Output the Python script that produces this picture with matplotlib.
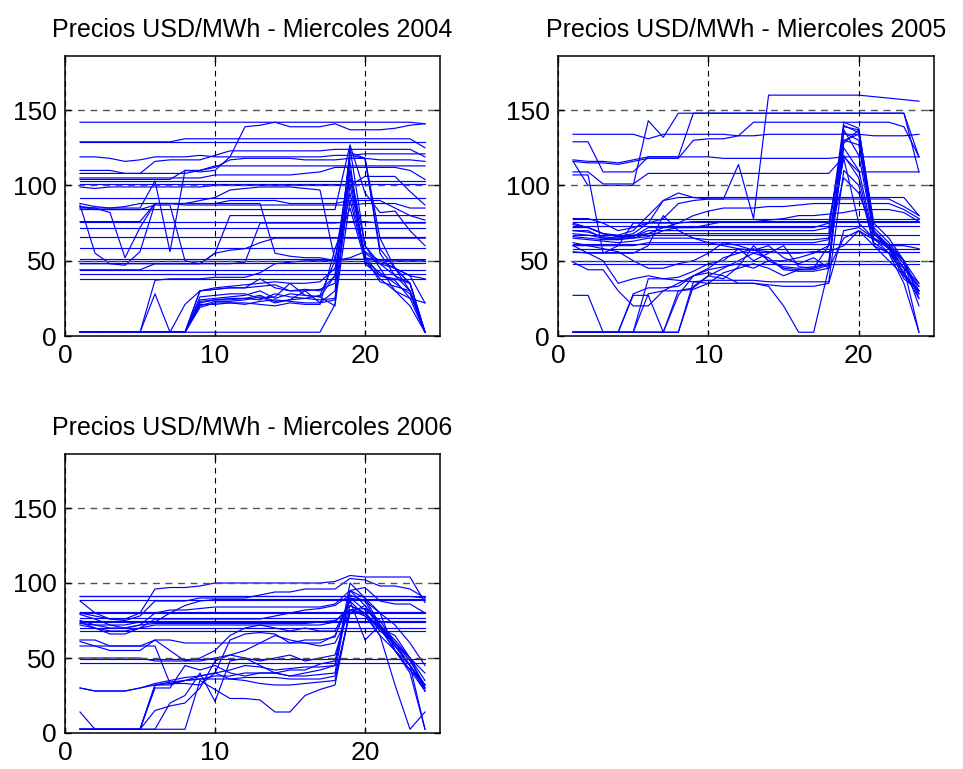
import matplotlib
matplotlib.use("Agg")
import matplotlib.pyplot as plt
import numpy as np

hours = list(range(1, 25))
titles = ["Precios USD/MWh - Miercoles 2004",
          "Precios USD/MWh - Miercoles 2005",
          "Precios USD/MWh - Miercoles 2006"]
xticks = [0, 10, 20]
yticks = [0, 50, 100, 150]

# ---- 2004 ----
flat_2004 = [129, 103, 101, 92, 76, 71.5, 65.5, 58.5, 51, 50, 48.5, 43.7, 41.5, 38]
series_2004 = [
    [142,142,142,142,142,142,142,142,142,142,142,142,142,142,142,142,142,142,142,142,142,142,142,141],
    [104,104,104,104,104,104,104,110,109,110,119,139,140,142,139,139,139,141,137,137,137,138,140,141],
    [129,129,129,129,129,129,129,131,131,131,131,131,131,131,131,131,131,131,131,131,131,131,131,125],
    [119,119,118,116,117,119,119,119,120,119,119,119,119,119,119,119,119,120,120,121,121,121,121,121],
    [110,110,110,108,108,116,117,117,117,120,123,123,123,123,123,123,123,124,124,124,124,124,124,119],
    [108,108,108,108,108,108,108,108,110,113,113,113,113,113,113,113,113,113,113,113,113,113,113,113],
    [105,105,105,105,105,105,105,105,105,107,107,107,107,107,107,108,109,112,112,112,112,112,110,104],
    [99,98,99,99,99,99,99,99,99,100,100,100,100,100,100,100,100,100,100,106,106,106,96,87],
    [88,86,85,86,88,88,88,88,90,92,97,98,99,99,99,98,97,50,110,60,48,45,40,38],
    [87,55,48,47,56,88,88,88,88,88,90,90,90,90,88,88,88,88,90,90,90,85,80,77],
    [86,85,82,52,72,88,88,87,87,87,87,87,87,87,87,87,87,87,87,88,88,88,85,85],
    [85,85,85,85,85,103,56,110,110,112,117,118,118,118,118,117,117,117,118,118,117,117,117,116],
    [86,84,84,84,84,87,87,50,48,55,80,80,80,80,80,80,80,80,80,80,80,80,80,80],
    [76,76,76,76,76,88,88,88,88,88,88,88,88,55,53,52,52,50,51,51,50,50,50,50],
    [48,48,48,48,48,48,48,48,48,48,48,49,75,75,75,75,75,75,76,76,75,75,75,75],
    [44,44,44,44,44,48,48,48,48,55,57,58,62,65,65,65,65,65,65,65,65,65,65,65],
    [84,84,84,84,84,84,84,84,84,84,84,84,84,84,84,84,84,84,127,95,82,83,70,60],
    [2.5,2.5,2.5,2.5,2.5,28,2.5,21,30,31,32,32,33,34,30,31,30,40,120,118,58,45,35,2.5],
    [2.5,2.5,2.5,2.5,2.5,37,38,38,38,39,39,39,42,48,49,50,50,50,52,56,50,45,40,22],
    [2.5,2.5,2.5,2.5,2.5,2.5,2.5,2.5,30,32,33,34,35,36,35,35,36,45,95,53,40,38,35,2.5],
    [2.5,2.5,2.5,2.5,2.5,2.5,2.5,2.5,22,24,25,25,24,28,26,25,24,25,100,55,48,40,30,2.5],
    [2.5,2.5,2.5,2.5,2.5,2.5,2.5,2.5,20,23,23,24,26,22,24,30,22,24,110,50,42,35,28,2.5],
    [2.5,2.5,2.5,2.5,2.5,2.5,2.5,2.5,19,22,22,21,23,24,23,22,22,30,125,60,45,30,20,2.5],
    [2.5,2.5,2.5,2.5,2.5,2.5,2.5,2.5,24,25,26,27,30,25,28,27,26,20,118,118,55,40,35,2.5],
    [2.5,2.5,2.5,2.5,2.5,2.5,2.5,2.5,26,27,28,28,25,26,35,27,26,40,105,52,50,45,35,2.5],
    [2.5,2.5,2.5,2.5,2.5,2.5,2.5,2.5,21,21,22,22,21,20,22,21,21,58,85,50,38,30,25,2.5],
    [2.5,2.5,2.5,2.5,2.5,2.5,2.5,2.5,23,24,24,25,27,23,24,25,27,50,115,48,40,37,25,22],
    [2.5,2.5,2.5,2.5,2.5,2.5,2.5,2.5,2.5,2.5,2.5,2.5,2.5,2.5,2.5,2.5,2.5,21,90,52,36,33,30,2.5],
    [2.5,2.5,2.5,2.5,2.5,2.5,2.5,2.5,30,31,32,32,38,32,30,30,31,35,122,118,65,45,30,2.5],
]

# ---- 2005 ----
flat_2005 = [78, 76, 73, 67, 61, 58, 56, 50, 48]
series_2005 = [
    [134,134,134,134,134,131,134,134,134,134,134,133,133,134,134,134,134,134,134,134,133,133,133,134],
    [129,129,109,109,109,119,119,119,148,148,148,148,148,148,148,148,148,148,148,148,148,148,148,119],
    [116,100,100,100,100,143,132,148,148,148,148,148,148,148,148,148,148,148,148,148,148,148,148,109],
    [117,116,116,115,117,119,119,119,119,119,118,118,118,118,118,118,118,118,119,119,119,119,119,119],
    [116,115,115,114,116,118,118,118,130,131,131,133,142,142,142,142,142,142,142,142,142,142,139,119],
    [109,109,101,101,101,108,108,108,108,108,108,108,108,108,108,108,108,108,119,109,109,109,109,109],
    [78,78,75,70,72,75,90,95,92,91,91,114,78,160,160,160,160,160,160,160,159,158,157,156],
    [72,72,68,66,68,75,78,88,90,91,91,91,91,91,91,91,91,91,91,91,91,91,86,80],
    [74,72,68,67,70,80,90,92,92,92,92,92,92,92,92,92,92,92,92,92,92,92,92,80],
    [70,69,66,65,67,68,72,75,80,83,85,85,85,86,86,87,88,88,88,88,88,88,84,78],
    [66,65,64,64,65,66,70,72,72,74,76,76,76,77,78,80,80,81,82,84,84,84,82,76],
    [107,107,55,55,55,60,80,70,65,62,60,58,57,56,55,55,56,56,60,70,64,60,60,58],
    [56,55,55,60,75,75,75,75,76,76,76,76,76,76,76,76,76,76,76,76,76,76,76,76],
    [62,60,58,56,50,45,45,48,50,55,62,60,57,60,52,48,52,45,65,70,60,50,40,30],
    [2.5,2.5,2.5,2.5,2.5,28,30,30,31,35,42,45,48,45,40,44,45,60,139,137,70,58,38,30],
    [27,27,2.5,2.5,27,27,2.5,27,40,44,46,48,45,50,46,45,46,48,130,127,68,58,45,33],
    [2.5,2.5,2.5,2.5,2.5,2.5,2.5,2.5,33,40,45,50,55,52,44,43,43,45,137,120,68,60,40,30],
    [2.5,2.5,2.5,2.5,2.5,2.5,2.5,30,32,40,38,46,60,50,45,44,44,47,125,110,65,58,42,28],
    [2.5,2.5,2.5,2.5,28,32,32,33,40,45,52,55,58,50,50,52,55,60,120,105,62,55,42,25],
    [2.5,2.5,2.5,2.5,2.5,38,38,39,43,48,50,58,50,55,60,46,45,48,140,135,70,60,45,2.5],
    [2.5,2.5,2.5,2.5,2.5,2.5,2.5,2.5,36,37,37,37,37,36,36,36,36,36,110,100,60,55,35,2.5],
    [49,44,44,30,20,20,30,35,40,42,40,35,35,33,20,2.5,2.5,45,130,134,68,60,50,25],
    [60,55,50,35,38,40,38,37,36,35,35,35,35,34,33,33,33,35,70,72,65,55,45,33],
    [70,70,65,65,65,68,68,68,68,68,68,68,68,68,68,68,68,68,142,138,72,62,50,30],
    [75,72,68,66,66,70,70,70,70,70,70,70,70,70,70,70,70,72,135,130,68,60,48,28],
    [68,67,65,64,66,72,72,72,72,72,72,72,72,72,72,72,72,75,128,137,75,65,50,35],
    [65,64,63,62,63,65,65,65,65,64,64,64,64,64,64,64,64,65,118,75,65,60,48,20],
    [60,60,60,60,60,62,62,62,62,62,62,62,62,62,62,62,62,64,105,95,68,58,45,35],
]

# ---- 2006 ----
flat_2006 = [91.5, 89, 81, 80, 77, 75, 74, 70, 68, 49.5, 46.5]
series_2006 = [
    [91,91,91,91,91,91,91,91,91,91,91,91,91,91,91,91,91,91,91,91,91,91,91,90],
    [80,78,76,76,80,96,97,97,98,100,100,100,100,100,100,100,100,101,105,104,104,104,104,87],
    [88,80,76,75,78,88,88,88,90,90,90,90,92,94,94,96,96,96,103,102,98,98,96,90],
    [75,72,72,72,74,74,80,85,88,89,89,89,89,89,89,89,89,89,89,89,89,89,89,89],
    [79,76,72,70,72,80,82,82,83,84,84,84,84,84,84,84,84,86,95,97,88,86,86,80],
    [74,70,66,66,70,76,76,76,76,76,76,76,76,78,80,82,83,85,92,88,80,72,60,45],
    [73,72,70,70,72,73,73,73,73,73,73,73,73,73,73,73,74,75,82,83,72,60,48,32],
    [72,70,68,68,70,72,72,72,72,72,72,72,72,72,72,72,72,74,85,80,70,55,42,28],
    [62,62,58,58,58,62,62,60,60,60,60,60,60,60,60,60,60,65,88,78,70,58,45,30],
    [61,58,55,55,55,62,55,48,50,55,65,70,72,70,68,70,68,68,88,62,72,62,50,35],
    [58,58,58,58,58,58,33,33,32,40,62,66,67,66,60,62,62,64,90,82,75,60,50,40],
    [50,50,50,50,50,48,48,48,48,50,52,55,60,65,62,60,58,60,80,85,72,58,45,32],
    [30,28,28,28,30,32,32,35,36,38,38,40,40,40,38,38,39,40,95,85,70,60,45,30],
    [14,2.5,2.5,2.5,2.5,32,33,35,38,40,42,45,44,42,43,44,44,45,100,90,72,58,45,28],
    [2.5,2.5,2.5,2.5,2.5,2.5,20,25,40,21,48,50,48,50,52,48,50,52,85,80,65,55,42,32],
    [2.5,2.5,2.5,2.5,2.5,30,30,45,42,45,40,38,40,40,42,42,46,48,90,88,70,55,45,2.5],
    [2.5,2.5,2.5,2.5,2.5,2.5,2.5,2.5,35,29,23,23,22,14,14,25,29,32,82,78,65,32,2.5,14],
    [2.5,2.5,2.5,2.5,2.5,15,18,20,30,48,52,50,45,40,38,40,42,45,95,90,80,55,40,2.5],
    [2.5,2.5,2.5,2.5,2.5,32,34,35,36,36,36,37,37,37,36,36,36,38,80,80,70,65,50,28],
    [30,28,28,28,30,33,35,37,38,40,36,35,33,32,32,33,34,35,82,80,68,60,50,30],
]

panels = [(flat_2004, series_2004), (flat_2005, series_2005), (flat_2006, series_2006)]

plt.rcParams['font.family'] = ['Liberation Sans', 'DejaVu Sans']
fig = plt.figure(figsize=(9.63, 7.69), dpi=100)
W, H = 963, 769
boxes = [(65, 56, 440, 336), (558, 56, 934, 336), (65, 454, 440, 733)]
blue = '#0000ff'
for (flats, series), title, (l, t, r, b) in zip(panels, titles, boxes):
    ax = fig.add_axes([l / W, 1 - b / H, (r - l) / W, (b - t) / H])
    for lev in flats:
        ax.plot([hours[0], hours[-1]], [lev, lev], color=blue, lw=0.85)
    for s in series:
        ax.plot(hours, s, color=blue, lw=0.85)
    ax.set_xlim(0, 25)
    ax.set_ylim(0, 186)
    ax.set_xticks(xticks)
    ax.set_yticks(yticks)
    ax.tick_params(direction='in', length=4, width=1, labelsize=19,
                   top=True, right=True, pad=6)
    for sp in ax.spines.values():
        sp.set_linewidth(1.1)
    ax.xaxis.grid(True, color='black', linestyle=(0, (5, 4)), linewidth=0.8)
    ax.yaxis.grid(True, color='#555555', linestyle=(0, (5, 4)), linewidth=1.0)
    ax.set_axisbelow(False)
    ax.set_title(title, fontsize=18, pad=14)

fig.savefig('out.png', dpi=100)
